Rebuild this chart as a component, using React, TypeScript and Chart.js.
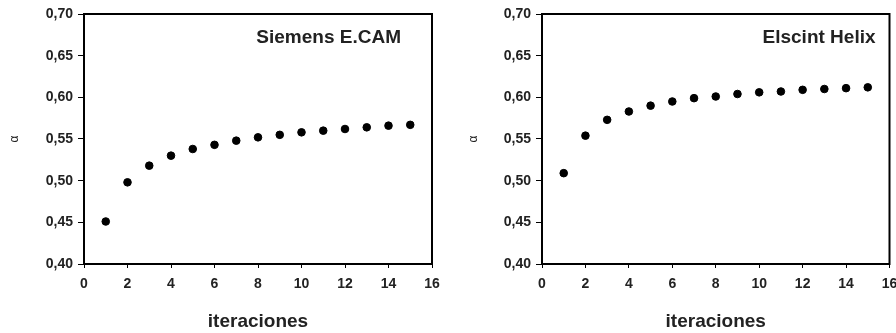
import React, { useEffect, useRef } from "react";
import { Chart, registerables } from "chart.js";

Chart.register(...registerables);

const iteraciones = [1, 2, 3, 4, 5, 6, 7, 8, 9, 10, 11, 12, 13, 14, 15];
const siemensAlpha = [0.451, 0.498, 0.518, 0.530, 0.538, 0.543, 0.548, 0.552, 0.555, 0.558, 0.560, 0.562, 0.564, 0.566, 0.567];
const elscintAlpha = [0.509, 0.554, 0.573, 0.583, 0.590, 0.595, 0.599, 0.601, 0.604, 0.606, 0.607, 0.609, 0.610, 0.611, 0.612];
const siemensTitle = "Siemens E.CAM";
const elscintTitle = "Elscint Helix";
const xTitle = "iteraciones";
const yTitle = "α";
const yMin = 0.4;
const yMax = 0.7;
const yStep = 0.05;
const xMin = 0;
const xMax = 16;
const xStep = 2;

const FONT = "'Liberation Sans', Arial, sans-serif";

type PanelCfg = {
  width: number;
  plotLeft: number;
  plotRight: number;
  yTitlePad: number;
  title: string;
  titleRightInset: number;
  values: number[];
};

function makeChart(canvas: HTMLCanvasElement, cfg: PanelCfg) {
  const frame = {
    id: "frame",
    beforeDatasetsDraw(chart: any) {
      const { ctx, chartArea } = chart;
      ctx.save();
      ctx.strokeStyle = "#000";
      ctx.lineWidth = 2;
      ctx.strokeRect(chartArea.left, chartArea.top, chartArea.right - chartArea.left, chartArea.bottom - chartArea.top);
      ctx.restore();
    },
    afterDraw(chart: any) {
      const { ctx, chartArea } = chart;
      ctx.save();
      ctx.fillStyle = "#222";
      ctx.font = `bold 19px ${FONT}`;
      ctx.textAlign = "right";
      ctx.textBaseline = "alphabetic";
      ctx.fillText(cfg.title, chartArea.right - cfg.titleRightInset, chartArea.top + 29);
      ctx.restore();
    },
  };

  return new Chart(canvas, {
    type: "scatter",
    data: {
      datasets: [
        {
          data: iteraciones.map((x, i) => ({ x, y: cfg.values[i] })),
          backgroundColor: "#000",
          borderColor: "#000",
          pointRadius: 3.8,
          pointHoverRadius: 3.8,
          showLine: false,
        },
      ],
    },
    options: {
      responsive: false,
      animation: false,
      devicePixelRatio: 1,
      layout: { padding: { left: 0, top: 14, right: cfg.width - cfg.plotRight, bottom: 0 } },
      plugins: { legend: { display: false }, tooltip: { enabled: false } },
      scales: {
        x: {
          type: "linear",
          min: xMin,
          max: xMax,
          afterFit: (s: any) => {
            s.height = 333 - 264;
            s.paddingLeft = 0;
            s.paddingRight = 0;
          },
          border: { display: false },
          grid: { drawOnChartArea: false, drawTicks: true, tickLength: 4, color: "#000", lineWidth: 1 },
          ticks: {
            stepSize: xStep,
            padding: 8,
            color: "#222",
            maxRotation: 0,
            font: { family: FONT, size: 14, weight: "bold" },
          },
          title: {
            display: true,
            text: xTitle,
            color: "#222",
            padding: { top: 0, bottom: 0 },
            font: { family: FONT, size: 19, weight: "bold" },
          },
        },
        y: {
          type: "linear",
          min: yMin,
          max: yMax,
          afterFit: (s: any) => {
            s.width = cfg.plotLeft;
            s.paddingTop = 0;
            s.paddingBottom = 0;
          },
          border: { display: false },
          grid: { drawOnChartArea: false, drawTicks: true, tickLength: 6, color: "#000", lineWidth: 1 },
          ticks: {
            stepSize: yStep,
            padding: 5,
            color: "#222",
            font: { family: FONT, size: 14, weight: "bold" },
            callback: (v: any) => Number(v).toFixed(2).replace(".", ","),
          },
          title: {
            display: true,
            text: yTitle,
            color: "#222",
            padding: { top: cfg.yTitlePad, bottom: 0 },
            font: { family: FONT, size: 12 },
          },
        },
      },
    },
    plugins: [frame],
  } as any);
}

function Panel({ cfg, left }: { cfg: PanelCfg; left: number }) {
  const ref = useRef<HTMLCanvasElement>(null);
  useEffect(() => {
    if (!ref.current) return;
    const chart = makeChart(ref.current, cfg);
    return () => chart.destroy();
  }, []);
  return (
    <canvas
      ref={ref}
      width={cfg.width}
      height={333}
      style={{ position: "absolute", left, top: 0, width: cfg.width, height: 333 }}
    />
  );
}

export default function App() {
  const leftCfg: PanelCfg = {
    width: 450,
    plotLeft: 84,
    plotRight: 432,
    yTitlePad: 7,
    title: siemensTitle,
    titleRightInset: 31,
    values: siemensAlpha,
  };
  const rightCfg: PanelCfg = {
    width: 446,
    plotLeft: 92,
    plotRight: 439.5,
    yTitlePad: 16,
    title: elscintTitle,
    titleRightInset: 14,
    values: elscintAlpha,
  };
  return (
    <div style={{ position: "fixed", left: 0, top: 0, width: 896, height: 333, background: "#fff", overflow: "hidden" }}>
      <Panel cfg={leftCfg} left={0} />
      <Panel cfg={rightCfg} left={450} />
    </div>
  );
}
